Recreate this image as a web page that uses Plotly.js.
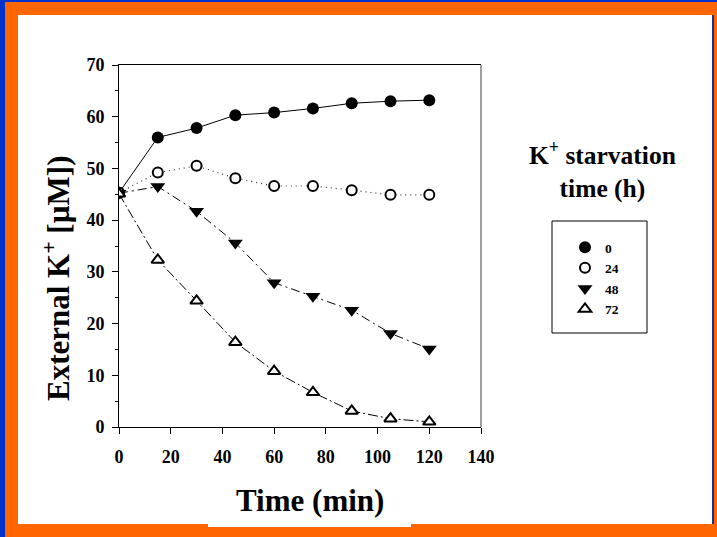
<!DOCTYPE html>
<html>
<head>
<meta charset="utf-8">
<script src="https://cdn.plot.ly/plotly-3.0.1.min.js"></script>
<style>
  html, body { margin: 0; padding: 0; width: 717px; height: 537px; overflow: hidden; background: #0033cc; }
  #orange { position: absolute; left: 5px; top: 2px; width: 712px; height: 535px; background: #ff6600; }
  #blueline { position: absolute; left: 18px; top: 15px; width: 696px; height: 509px; background: #1a2e99; }
  #white { position: absolute; left: 18px; top: 15px; width: 694px; height: 509px; background: #ffffff; }
  #bump { position: absolute; left: 208px; top: 520px; width: 203px; height: 7px; background: #ffffff; }
  #chart { position: absolute; left: 0; top: 0; width: 717px; height: 537px; }
</style>
</head>
<body>
<div id="orange"></div>
<div id="blueline"></div>
<div id="white"></div>
<div id="bump"></div>
<div id="chart"></div>
<script>
// Data
const timeMin = [0, 15, 30, 45, 60, 75, 90, 105, 120];
const starv0  = [45.3, 56.0, 57.8, 60.3, 60.8, 61.6, 62.6, 63.0, 63.2];
const starv24 = [45.3, 49.2, 50.5, 48.1, 46.6, 46.6, 45.8, 44.9, 44.9];
const starv48 = [45.2, 46.5, 41.7, 35.6, 27.9, 25.3, 22.6, 18.1, 15.1];
const starv72 = [45.1, 32.3, 24.4, 16.4, 10.8, 6.7, 3.1, 1.6, 1.0];
const seriesNames = ['0', '24', '48', '72'];
const xTicks = [0, 20, 40, 60, 80, 100, 120, 140];
const yTicks = [0, 10, 20, 30, 40, 50, 60, 70];

const FONT = 'Liberation Serif, Times New Roman, serif';
const seriesY = [starv0, starv24, starv48, starv72];
const lineStyles = [
  {color: '#000000', width: 1, dash: 'solid'},
  {color: '#333333', width: 1.2, dash: '1px,4px'},
  {color: '#000000', width: 1, dash: '9px,4px,2px,4px'},
  {color: '#000000', width: 1, dash: '10px,3px,2px,3px'}
];
const markerStyles = [
  {symbol: 'circle', size: 12, color: '#000000', line: {color: '#000000', width: 0}},
  {symbol: 'circle', size: 10, color: '#ffffff', line: {color: '#000000', width: 2}},
  {symbol: 'triangle-down', size: 13, color: '#000000', line: {color: '#000000', width: 0}},
  {symbol: 'triangle-up', size: 11, color: '#ffffff', line: {color: '#000000', width: 2}}
];

const traces = [];
seriesY.forEach((ys, i) => {
  traces.push({x: timeMin, y: ys, mode: 'lines', line: lineStyles[i], showlegend: false, hoverinfo: 'skip'});
});
seriesY.forEach((ys, i) => {
  traces.push({x: timeMin, y: ys, mode: 'markers', name: seriesNames[i], marker: markerStyles[i], showlegend: true});
});

// pixel -> paper helpers (plot area: x 119..481, y 65..427)
const L = 119, T = 65, W = 362, H = 362;
const px = v => (v - L) / W;
const py = v => (T + H - v) / H;

const layout = {
  width: 717, height: 537,
  margin: {l: L, r: 717 - L - W, t: T, b: 537 - T - H, pad: 0},
  paper_bgcolor: 'rgba(0,0,0,0)',
  plot_bgcolor: 'rgba(0,0,0,0)',
  font: {family: FONT, color: '#000000'},
  xaxis: {
    range: [0, 140], tickvals: xTicks, ticktext: xTicks.map(String),
    showgrid: false, zeroline: false, showline: true, linecolor: '#000000', linewidth: 1,
    mirror: true, ticks: 'outside', ticklen: 6, tickcolor: '#000000', tickwidth: 1,
    ticklabelstandoff: 7,
    tickfont: {family: FONT, size: 18, weight: 'bold', color: '#000000'}
  },
  yaxis: {
    range: [0, 70], tickvals: yTicks, ticktext: yTicks.map(String),
    showgrid: false, zeroline: false, showline: true, linecolor: '#000000', linewidth: 1,
    ticks: 'outside', ticklen: 6, tickcolor: '#000000', tickwidth: 1,
    ticklabelstandoff: 4,
    minor: {dtick: 5, ticks: 'outside', ticklen: 3, tickcolor: '#000000', tickwidth: 1, showgrid: false},
    tickfont: {family: FONT, size: 18, weight: 'bold', color: '#000000'}
  },
  showlegend: true,
  legend: {
    x: px(565), y: py(232), xanchor: 'left', yanchor: 'top',
    bgcolor: 'rgba(0,0,0,0)', borderwidth: 0, itemsizing: 'trace',
    font: {family: FONT, size: 13.5, weight: 'bold', color: '#000000'},
    tracegroupgap: 0
  },
  shapes: [
    {type: 'line', xref: 'paper', yref: 'paper', x0: 1, x1: 1, y0: 0, y1: 1, line: {color: '#808080', width: 1.5}},
    {type: 'rect', xref: 'paper', yref: 'paper', x0: px(552), x1: px(647), y0: py(333), y1: py(221), line: {color: '#000000', width: 1}}
  ],
  annotations: [
    {text: 'Time (min)', xref: 'paper', yref: 'paper', x: px(310), y: py(500), xanchor: 'center', yanchor: 'middle', showarrow: false,
     font: {family: FONT, size: 31, weight: 'bold', color: '#000000'}},
    {text: 'External K<sup>+</sup> [µM])', xref: 'paper', yref: 'paper', x: px(56), y: py(279), xanchor: 'center', yanchor: 'middle', textangle: -90, showarrow: false,
     font: {family: FONT, size: 31, weight: 'bold', color: '#000000'}},
    {text: 'K<sup>+</sup> starvation<br>time (h)', xref: 'paper', yref: 'paper', x: px(602), y: py(170), xanchor: 'center', yanchor: 'middle', showarrow: false,
     font: {family: FONT, size: 25.5, weight: 'bold', color: '#000000'}}
  ]
};

Plotly.newPlot('chart', traces, layout, {displayModeBar: false, staticPlot: true});
</script>
</body>
</html>
